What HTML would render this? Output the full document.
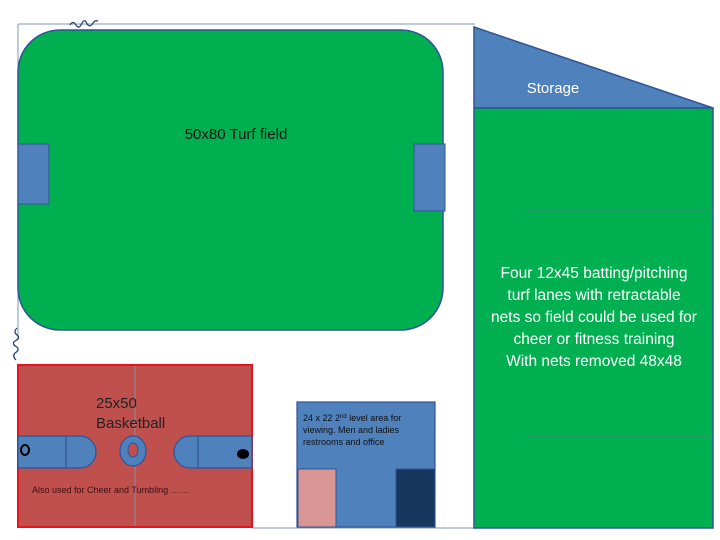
<!DOCTYPE html>
<html><head><meta charset="utf-8"><style>
html,body{margin:0;padding:0;background:#fff;}
svg{display:block;font-family:"Liberation Sans",sans-serif;}
</style></head><body>
<svg width="720" height="540" viewBox="0 0 720 540" xmlns="http://www.w3.org/2000/svg">
<rect width="720" height="540" fill="#fff"/>
<line x1="18" y1="24" x2="475" y2="24" stroke="#7f93b8" stroke-width="1"/>
<line x1="18" y1="24" x2="18" y2="340" stroke="#7f93b8" stroke-width="1"/>
<line x1="252" y1="528" x2="475" y2="528" stroke="#7f93b8" stroke-width="1"/>
<path d="M70 25 q3 -5 6 0 q3 5 6 -2 q3 -5 5 1 q3 4 6 -1 q2 -3 5 -2" fill="none" stroke="#1f3a6b" stroke-width="1.2"/>
<path d="M17 328 q-4 4 0 7 q4 3 -2 6 q-4 3 2 6 q3 3 -2 6 q-3 3 1 7" fill="none" stroke="#1f3a6b" stroke-width="1.2"/>
<rect x="18" y="30" width="425" height="300" rx="42" fill="#00b050" stroke="#2f5597" stroke-width="1.5"/>
<rect x="18" y="144" width="31" height="60" fill="#4f81bd" stroke="#2f5597" stroke-width="1"/>
<rect x="414" y="144" width="31" height="67" fill="#4f81bd" stroke="#2f5597" stroke-width="1"/>
<text x="236" y="139" font-size="15" text-anchor="middle" fill="#111">50x80 Turf field</text>
<polygon points="474,27 713,108 474,108" fill="#4f81bd" stroke="#2f5597" stroke-width="1.5"/>
<rect x="474" y="108" width="239" height="420" fill="#00b050" stroke="#2f5597" stroke-width="1.5"/>
<line x1="526" y1="211" x2="713" y2="211" stroke="#2f8f7f" stroke-width="1"/>
<line x1="526" y1="436" x2="713" y2="436" stroke="#2f8f7f" stroke-width="1"/>
<text x="553" y="93" font-size="15" text-anchor="middle" fill="#fff">Storage</text>
<g font-size="15.5" text-anchor="middle" fill="#fff">
<text x="594" y="278">Four  12x45 batting/pitching</text>
<text x="594" y="300">turf lanes with retractable</text>
<text x="594" y="322">nets so field could be used for</text>
<text x="594" y="344">cheer or fitness training</text>
<text x="594" y="366">With nets removed 48x48</text>
</g>
<rect x="18" y="365" width="234" height="162" fill="#c0504d" stroke="#e8141b" stroke-width="2"/>
<line x1="135" y1="366" x2="135" y2="526" stroke="#8a8a9a" stroke-width="1"/>
<path d="M18 436 H80 A16 16 0 0 1 80 468 H18 Z" fill="#4f81bd" stroke="#2f5597" stroke-width="1.2"/>
<line x1="66" y1="436" x2="66" y2="468" stroke="#2f5597" stroke-width="1.2"/>
<path d="M252 436 H190 A16 16 0 0 0 190 468 H252 Z" fill="#4f81bd" stroke="#2f5597" stroke-width="1.2"/>
<line x1="198" y1="436" x2="198" y2="468" stroke="#2f5597" stroke-width="1.2"/>
<ellipse cx="133" cy="451" rx="13" ry="15" fill="#4f81bd" stroke="#2f5597" stroke-width="1.2"/>
<ellipse cx="133" cy="450" rx="5" ry="7" fill="#c0504d" stroke="#2f5597" stroke-width="1"/>
<ellipse cx="25" cy="450" rx="4" ry="5" fill="none" stroke="#000" stroke-width="2"/>
<ellipse cx="243" cy="454" rx="5" ry="4" fill="#000" stroke="#000" stroke-width="2"/>
<text x="96" y="408" font-size="15" fill="#222">25x50</text>
<text x="96" y="428" font-size="15" fill="#222">Basketball</text>
<text x="32" y="493" font-size="9" fill="#3a1010">Also used for Cheer and  Tumbling ……</text>
<rect x="297" y="402" width="138" height="125" fill="#4f81bd" stroke="#2f5597" stroke-width="1.2"/>
<rect x="298" y="469" width="38" height="58" fill="#da9694" stroke="#2f5597" stroke-width="1"/>
<rect x="396" y="469" width="39" height="58" fill="#17375e" stroke="#2f5597" stroke-width="1"/>
<g font-size="9" fill="#111">
<text x="303" y="421">24 x 22 2<tspan font-size="6" dy="-3">nd</tspan><tspan dy="3"> level area for</tspan></text>
<text x="303" y="433">viewing. Men and ladies</text>
<text x="303" y="445">restrooms and office</text>
</g>
</svg>
</body></html>
